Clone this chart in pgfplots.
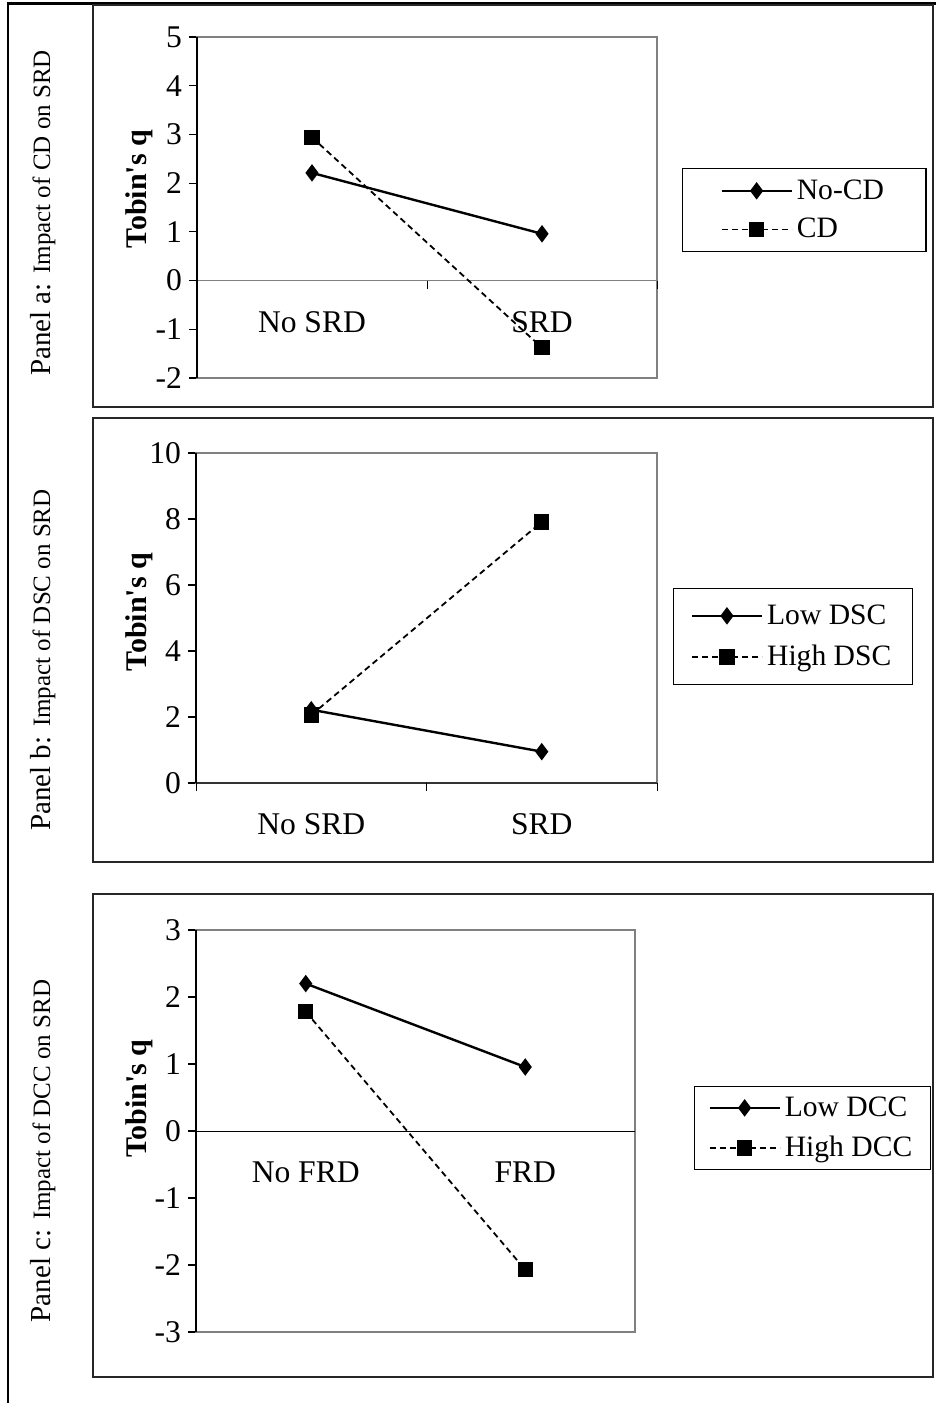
\documentclass[border=0pt]{standalone}
\usepackage{pgfplots}
\pgfplotsset{compat=1.18}
\usepackage{fontspec}
\setmainfont{Liberation Serif}

% 1 px of the reference = 0.5pt
\pgfplotsset{
  legend image code/.code={\draw[mark repeat=2,mark phase=2,#1] plot coordinates {(0pt,0pt) (17.5pt,0pt) (35pt,0pt)};},
  panel/.style={
    scale only axis, clip=false,
    xmin=0.5, xmax=2.5, xtick={1,2},
    axis x line*=middle, axis y line*=left,
    axis line style={draw=none},
    xtick style={draw=none},
    ytick style={black,line width=0.6pt},
    tick align=outside, major tick length=4pt,
    ticklabel style={font=\fontsize{15.8}{18}\selectfont},
    xticklabel style={yshift=-8pt},
    every axis y label/.style={rotate=90,anchor=center,font=\fontsize{15}{18}\selectfont\bfseries},
    legend cell align=left,
    legend style={anchor=north west,draw=black,line width=0.6pt,
      font=\fontsize{14.8}{17}\selectfont,row sep=5pt},
  },
  lowline/.style={black,line width=1.2pt,mark=diamond*,mark size=3.4pt,mark options={solid}},
  highline/.style={black,line width=0.9pt,dash pattern=on 3pt off 2pt,mark=square*,mark size=3.4pt,mark options={solid}},
}

\begin{document}
\begin{tikzpicture}
\useasboundingbox (0,0) rectangle (468pt,701.5pt);

% outer frame and panel boxes
\draw[black,line width=1.5pt] (3.5pt,699.5pt) -- (468pt,699.5pt);
\draw[black,line width=1pt] (4pt,699.5pt) -- (4pt,0pt);
\draw[black!85,line width=0.7pt] (46.5pt,699pt) rectangle (466.5pt,498pt);
\draw[black!85,line width=0.7pt] (46.5pt,492.5pt) rectangle (466.5pt,270.5pt);
\draw[black!85,line width=0.7pt] (46.5pt,254.5pt) rectangle (466.5pt,13pt);

% panel titles
\node[rotate=90,anchor=base] at (25pt,595pt) {\fontsize{14.5}{17}\selectfont Panel a: \fontsize{12.5}{15}\selectfont Impact of CD on SRD};
\node[rotate=90,anchor=base] at (25pt,371.5pt) {\fontsize{14.5}{17}\selectfont Panel b: \fontsize{12.5}{15}\selectfont Impact of DSC on SRD};
\node[rotate=90,anchor=base] at (25pt,126pt) {\fontsize{14.5}{17}\selectfont Panel c: \fontsize{12.5}{15}\selectfont Impact of DCC on SRD};

% Panel a
\begin{axis}[panel,at={(98.5pt,512.5pt)},anchor=south west,width=230pt,height=170.5pt,
  ymin=-2,ymax=5,ytick={-2,-1,0,1,2,3,4,5},yticklabels={-2,-1,0,1,2,3,4,5},
  xticklabels={No SRD,SRD},
  ylabel={Tobin\textquotesingle s q},ylabel style={at={(axis description cs:-0.126,0.554)}},
  legend style={at={(1.054,0.616)},inner xsep=19pt,inner ysep=3.5pt,row sep=4pt}]
\draw[gray,line width=1pt] (rel axis cs:0,0) rectangle (rel axis cs:1,1);
\draw[gray,line width=0.8pt] (axis cs:0.5,0) -- (axis cs:2.5,0);
\draw[black,line width=0.6pt] (rel axis cs:0,0) -- (rel axis cs:0,1);
\draw[black,line width=0.5pt] (axis cs:1.5,0) -- ([yshift=-4pt]axis cs:1.5,0);
\draw[black,line width=0.5pt] (axis cs:2.5,0) -- ([yshift=-4pt]axis cs:2.5,0);
\addplot[lowline] coordinates {(1,2.21) (2,0.96)};
\addlegendentry{No-CD}
\addplot[highline] coordinates {(1,2.94) (2,-1.38)};
\addlegendentry{CD}
\end{axis}

% Panel b
\begin{axis}[panel,at={(98pt,310pt)},anchor=south west,width=230.5pt,height=165pt,
  ymin=0,ymax=10,ytick={0,2,4,6,8,10},yticklabels={0,2,4,6,8,10},
  xticklabels={No SRD,SRD},
  ylabel={Tobin\textquotesingle s q},ylabel style={at={(axis description cs:-0.124,0.518)}},
  legend style={at={(1.035,0.591)},inner xsep=8.5pt,inner ysep=6pt,row sep=5pt}]
\draw[gray,line width=1pt] (rel axis cs:0,0) rectangle (rel axis cs:1,1);
\draw[black!80,line width=0.8pt] (axis cs:0.5,0) -- (axis cs:2.5,0);
\draw[black,line width=0.6pt] (rel axis cs:0,0) -- (rel axis cs:0,1);
\draw[black,line width=0.5pt] (axis cs:0.5,0) -- ([yshift=-4pt]axis cs:0.5,0);
\draw[black,line width=0.5pt] (axis cs:1.5,0) -- ([yshift=-4pt]axis cs:1.5,0);
\draw[black,line width=0.5pt] (axis cs:2.5,0) -- ([yshift=-4pt]axis cs:2.5,0);
\addplot[lowline] coordinates {(1,2.22) (2,0.95)};
\addlegendentry{Low DSC}
\addplot[highline] coordinates {(1,2.06) (2,7.91)};
\addlegendentry{High DSC}
\end{axis}

% Panel c
\begin{axis}[panel,at={(98pt,35.5pt)},anchor=south west,width=219.5pt,height=201pt,
  ymin=-3,ymax=3,ytick={-3,-2,-1,0,1,2,3},yticklabels={-3,-2,-1,0,1,2,3},
  xticklabels={No FRD,FRD},
  ylabel={Tobin\textquotesingle s q},ylabel style={at={(axis description cs:-0.13,0.58)}},
  legend style={at={(1.134,0.612)},inner xsep=7pt,inner ysep=3pt,row sep=4.5pt}]
\draw[gray,line width=1pt] (rel axis cs:0,0) rectangle (rel axis cs:1,1);
\draw[black,line width=0.5pt] (axis cs:0.5,0) -- (axis cs:2.5,0);
\draw[black,line width=0.6pt] (rel axis cs:0,0) -- (rel axis cs:0,1);
\addplot[lowline] coordinates {(1,2.2) (2,0.955)};
\addlegendentry{Low DCC}
\addplot[highline] coordinates {(1,1.78) (2,-2.07)};
\addlegendentry{High DCC}
\end{axis}
\end{tikzpicture}
\end{document}
